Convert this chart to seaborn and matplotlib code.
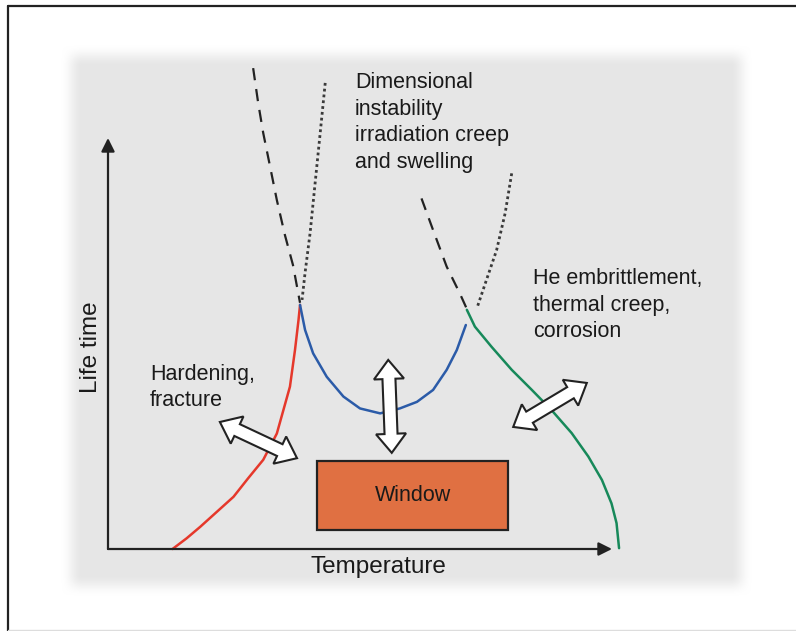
import numpy as np
import matplotlib.pyplot as plt
import matplotlib.patches as mpatches
from matplotlib.lines import Line2D
import seaborn as sns

# Schematic values, temperature (x) and life time (y) in arbitrary units,
# origin at the corner of the two axis arrows, arrows end at 100.
red_t = [12.8, 15.6, 18.3, 24.9, 27.8, 30.8, 33.5, 36.1, 37.1, 37.8, 38.1]
red_life = [0.0, 2.6, 5.4, 12.7, 17.2, 21.7, 28.1, 39.5, 48.4, 55.7, 59.4]

blue_t = [38.1, 39.1, 40.7, 43.4, 46.7, 50.0, 54.0, 57.9, 61.3, 64.5, 67.2, 69.2, 71.0]
blue_life = [59.4, 53.3, 47.6, 41.9, 37.1, 34.2, 33.0, 34.2, 35.8, 38.7, 43.6, 48.4, 54.5]

green_t = [71.2, 72.8, 76.1, 80.1, 84.1, 88.0, 92.0, 95.3, 98.0, 99.9, 100.9, 101.4]
green_life = [58.2, 54.1, 49.2, 43.6, 38.7, 33.8, 28.2, 22.5, 16.8, 11.1, 6.3, 0.2]

# extrapolations above the peaks (dashed / dotted)
left_dash_t = [28.8, 29.8, 30.8, 32.1, 33.5, 35.1, 36.7, 38.1]
left_dash_life = [117.0, 108.5, 101.2, 93.4, 84.9, 76.4, 69.1, 59.9]
left_dot_t = [43.1, 42.1, 41.1, 40.1, 39.1, 38.5]
left_dot_life = [113.4, 101.2, 89.1, 76.9, 67.2, 60.6]
right_dash_t = [62.2, 64.5, 67.2, 69.8, 71.2]
right_dash_life = [85.3, 77.6, 68.7, 62.2, 58.4]
right_dot_t = [80.1, 78.8, 77.1, 75.1, 73.2]
right_dot_life = [91.4, 81.7, 72.7, 65.5, 58.6]

# operating window (temperature range, life time range)
window_t = [41.5, 79.4]
window_life = [4.6, 21.4]

labels = {
    "dim": "Dimensional\ninstability\nirradiation creep\nand swelling",
    "hard": "Hardening,\nfracture",
    "he": "He embrittlement,\nthermal creep,\ncorrosion",
}

sns.set_theme(style="white")
plt.rcParams["font.family"] = ["Liberation Sans", "DejaVu Sans"]

W, H = 796, 631
fig = plt.figure(figsize=(W / 100, H / 100), dpi=100)
ax = fig.add_axes([0, 0, 1, 1])
ax.set_axis_off()

xlim = (-108 / 5.04, (W - 108) / 5.04)
ylim = (-(H - 549) / 4.11, 549 / 4.11)

# soft grey panel behind the diagram
yy, xx = np.mgrid[0:H, 0:W]
def ramp(v):
    v = np.clip(v, 0, 1)
    return v * v * (3 - 2 * v)
alpha = (ramp((xx - 60) / 22) * ramp((752 - xx) / 22)
         * ramp((yy - 44) / 22) * ramp((596 - yy) / 22))
panel = np.ones((H, W, 4))
panel[..., :3] = 230 / 255
panel[..., 3] = alpha
ax.imshow(panel, extent=(xlim[0], xlim[1], ylim[0], ylim[1]),
          aspect="auto", origin="upper", zorder=0)
ax.set_xlim(*xlim)
ax.set_ylim(*ylim)

# extrapolations
dash = (0, (5.5, 4.0))
dot = (0, (1.0, 1.1))
sns.lineplot(x=left_dash_t, y=left_dash_life, ax=ax, sort=False, estimator=None,
             color="#222222", lw=1.6, linestyle=dash)
sns.lineplot(x=right_dash_t, y=right_dash_life, ax=ax, sort=False, estimator=None,
             color="#222222", lw=1.6, linestyle=dash)
sns.lineplot(x=left_dot_t, y=left_dot_life, ax=ax, sort=False, estimator=None,
             color="#3a3a3a", lw=2.0, linestyle=dot)
sns.lineplot(x=right_dot_t, y=right_dot_life, ax=ax, sort=False, estimator=None,
             color="#3a3a3a", lw=2.0, linestyle=dot)

# the three limiting curves
sns.lineplot(x=red_t, y=red_life, ax=ax, sort=False, estimator=None,
             color="#E5382B", lw=1.8)
sns.lineplot(x=blue_t, y=blue_life, ax=ax, sort=False, estimator=None,
             color="#2B5BA8", lw=1.8)
sns.lineplot(x=green_t, y=green_life, ax=ax, sort=False, estimator=None,
             color="#17895A", lw=1.8)

# axes arrows
arrow_kw = dict(arrowstyle="-|>", color="#222222", lw=1.6,
                mutation_scale=20, shrinkA=0, shrinkB=0)
ax.annotate("", xy=(100, 0), xytext=(0, 0), arrowprops=arrow_kw)
ax.annotate("", xy=(0, 100), xytext=(0, 0), arrowprops=arrow_kw)

# window box
ax.add_patch(mpatches.Rectangle((window_t[0], window_life[0]),
                                window_t[1] - window_t[0],
                                window_life[1] - window_life[0],
                                fc="#E07042", ec="#222222", lw=1.6, zorder=3))
ax.text(np.mean(window_t), np.mean(window_life), "Window", ha="center",
        va="center", fontsize=15.5, color="#1a1a1a", zorder=4)


def double_arrow(p0, p1, shaft=6.5, head=15, head_len=19):
    a = ax.transData.transform(p0)
    b = ax.transData.transform(p1)
    d = b - a
    u = d / np.hypot(*d)
    n = np.array([-u[1], u[0]])
    pts = [a,
           a + u * head_len + n * head, a + u * head_len + n * shaft,
           b - u * head_len + n * shaft, b - u * head_len + n * head,
           b,
           b - u * head_len - n * head, b - u * head_len - n * shaft,
           a + u * head_len - n * shaft, a + u * head_len - n * head]
    pts = ax.transData.inverted().transform(np.array(pts))
    ax.add_patch(mpatches.Polygon(pts, closed=True, fc="white", ec="#222222",
                                  lw=1.5, joinstyle="miter", zorder=5))


double_arrow((22.2, 30.9), (37.5, 22.1))
double_arrow((55.6, 46.0), (56.3, 23.4))
double_arrow((80.4, 29.7), (95.0, 40.4))

# labels
txt_kw = dict(fontsize=15.5, color="#1a1a1a", ha="left", va="top", linespacing=1.34)
ax.text(49.0, 116.0, labels["dim"], **txt_kw)
ax.text(8.3, 45.0, labels["hard"], **txt_kw)
ax.text(84.3, 68.3, labels["he"], **txt_kw)
ax.text(53.6, -4.4, "Temperature", fontsize=17.5, color="#1a1a1a",
        ha="center", va="center")
ax.text(-3.4, 49.1, "Life time", fontsize=17.5, color="#1a1a1a",
        ha="center", va="center", rotation=90)

# image frame
fig.add_artist(Line2D([8 / W, 8 / W], [0, 1 - 6 / H], color="#222222", lw=1.6))
fig.add_artist(Line2D([8 / W, 1], [1 - 6 / H, 1 - 6 / H], color="#222222", lw=1.6))
fig.add_artist(Line2D([8 / W, 1], [1.5 / H, 1.5 / H], color="#dddddd", lw=1.0))

fig.savefig("out.png", dpi=100)
